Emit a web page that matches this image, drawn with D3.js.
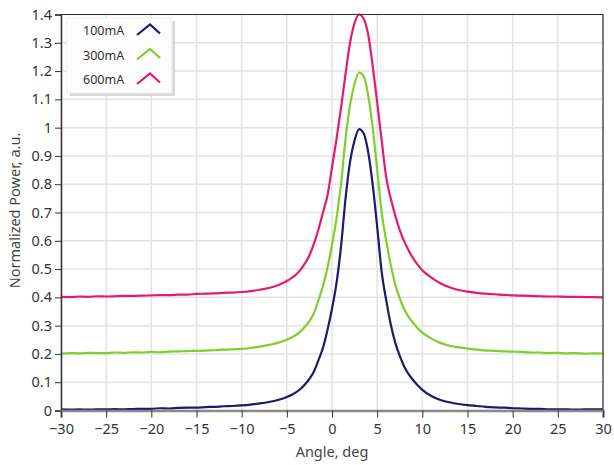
<!DOCTYPE html>
<html>
<head>
<meta charset="utf-8">
<script src="https://cdn.jsdelivr.net/npm/d3@7"></script>
<style>
  html, body { margin: 0; padding: 0; background: #fff; }
  svg { display: block; font-family: "Noto Sans", "Segoe UI", sans-serif; }
</style>
</head>
<body>
<svg id="chart"></svg>
<script>
// angle values (deg), shared by all three series
const angles = [
  -30,-29,-28,-27,-26,-25,-24,-23,-22,-21,-20,-19,-18,-17,-16,-15,-14,-13,-12,-11,-10,
  -9,-8,-7,-6,-5,
  -4.5,-4,-3.5,-3,-2.5,-2,-1.5,-1,-0.5,0,0.5,1,1.5,2,2.5,3,3.5,4,4.5,5,5.5,6,6.5,7,7.5,8,8.5,9,9.5,10,
  11,12,13,14,15,16,17,18,19,20,21,22,23,24,25,26,27,28,29,30
];

const power100 = [
  0.004,0.003,0.004,0.003,0.004,0.004,0.005,0.004,0.005,0.006,0.006,0.008,0.007,0.009,0.010,0.010,0.012,0.013,0.015,0.016,0.018,
  0.021,0.025,0.030,0.037,0.048,
  0.055,0.064,0.076,0.092,0.112,0.138,0.178,0.222,0.285,0.36,0.45,0.58,0.75,0.88,0.955,0.995,0.98,0.915,0.80,0.65,0.49,0.39,0.305,0.24,0.193,0.155,0.128,0.107,0.088,0.073,
  0.051,0.037,0.029,0.023,0.019,0.016,0.013,0.011,0.010,0.008,0.007,0.006,0.006,0.004,0.004,0.004,0.003,0.004,0.004,0.004
];

const power300 = [
  0.201,0.203,0.202,0.204,0.203,0.203,0.205,0.204,0.206,0.205,0.207,0.206,0.208,0.209,0.210,0.211,0.212,0.213,0.215,0.216,0.218,
  0.221,0.226,0.232,0.239,0.250,
  0.258,0.267,0.279,0.296,0.316,0.344,0.39,0.44,0.505,0.585,0.68,0.80,0.96,1.08,1.155,1.195,1.182,1.115,1.00,0.852,0.70,0.60,0.515,0.446,0.396,0.358,0.33,0.309,0.29,0.275,
  0.254,0.239,0.229,0.223,0.219,0.215,0.212,0.211,0.209,0.208,0.207,0.205,0.205,0.203,0.204,0.202,0.203,0.201,0.202,0.201
];

const power600 = [
  0.402,0.401,0.403,0.402,0.404,0.403,0.404,0.405,0.405,0.406,0.407,0.408,0.408,0.410,0.410,0.412,0.413,0.414,0.416,0.417,0.419,
  0.422,0.427,0.433,0.443,0.458,
  0.468,0.48,0.497,0.52,0.548,0.59,0.64,0.70,0.76,0.86,0.96,1.07,1.19,1.30,1.37,1.40,1.385,1.33,1.22,1.09,0.955,0.825,0.75,0.69,0.638,0.598,0.565,0.537,0.515,0.496,
  0.470,0.450,0.436,0.426,0.420,0.416,0.413,0.411,0.409,0.407,0.406,0.405,0.404,0.403,0.403,0.402,0.402,0.401,0.401,0.400
];

const seriesNames = ["100mA", "300mA", "600mA"];
const seriesColors = ["#1b1a6b", "#7fcf2b", "#e8196c"];
const xTicks = [-30,-25,-20,-15,-10,-5,0,5,10,15,20,25,30];
const yTicks = [0,0.1,0.2,0.3,0.4,0.5,0.6,0.7,0.8,0.9,1,1.1,1.2,1.3,1.4];

const width = 614;
const height = 465;
const margin = {top: 14.5, right: 11, bottom: 54.5, left: 61};
const innerWidth = width - margin.left - margin.right;
const innerHeight = height - margin.top - margin.bottom;
const fontFamily = '"Noto Sans", "Segoe UI", sans-serif';

const svg = d3.select("svg#chart")
  .attr("width", width)
  .attr("height", height)
  .attr("viewBox", [0, 0, width, height]);

const x = d3.scaleLinear().domain([-30, 30]).range([0, innerWidth]);
const y = d3.scaleLinear().domain([0, 1.4]).range([innerHeight, 0]);

const graph = svg.append("g")
  .attr("transform", `translate(${margin.left}, ${margin.top})`);

// grid
graph.append("g")
  .selectAll("line")
  .data(xTicks)
  .join("line")
    .attr("x1", d => x(d)).attr("x2", d => x(d))
    .attr("y1", 0).attr("y2", innerHeight)
    .attr("stroke", "#e3e3e3")
    .attr("stroke-width", 1.5);

graph.append("g")
  .selectAll("line")
  .data(yTicks)
  .join("line")
    .attr("y1", d => y(d)).attr("y2", d => y(d))
    .attr("x1", 0).attr("x2", innerWidth)
    .attr("stroke", "#e3e3e3")
    .attr("stroke-width", 1.5);

// curves
const series = [power100, power300, power600];
const line = d3.line()
  .x((d, i) => x(angles[i]))
  .y(d => y(d))
  .curve(d3.curveMonotoneX);

graph.append("g")
  .selectAll("path")
  .data(series)
  .join("path")
    .attr("d", d => line(d))
    .attr("fill", "none")
    .attr("stroke", (d, i) => seriesColors[i])
    .attr("stroke-width", 2.2)
    .attr("stroke-linejoin", "round");

// frame (top + right)
graph.append("path")
  .attr("d", `M0,0H${innerWidth}V${innerHeight}`)
  .attr("fill", "none")
  .attr("stroke", "#333")
  .attr("stroke-width", 1.2);

// y axis
const gYAxis = graph.append("g");
gYAxis.call(d3.axisLeft(y).tickValues(yTicks).tickSize(6).tickPadding(3)
  .tickFormat(d => d3.format("~g")(d)));
gYAxis.attr("font-family", fontFamily).attr("font-size", 14.5);
gYAxis.select(".domain").attr("stroke", "#333").attr("stroke-width", 1.5);
gYAxis.selectAll(".tick line").attr("stroke", "#333");
gYAxis.selectAll("text").attr("fill", "#333");

// x axis
const gXAxis = graph.append("g")
  .attr("transform", `translate(0, ${innerHeight})`);
gXAxis.call(d3.axisBottom(x).tickValues(xTicks).tickSize(7).tickPadding(6));
gXAxis.attr("font-family", fontFamily).attr("font-size", 14.5);
gXAxis.select(".domain").attr("stroke", "#8a8a8a").attr("stroke-width", 2.5);
gXAxis.selectAll(".tick line").attr("stroke", "#333");
gXAxis.selectAll("text").attr("fill", "#333");

// axis titles
svg.append("text")
  .attr("x", margin.left + x(0))
  .attr("y", 457)
  .attr("text-anchor", "middle")
  .attr("fill", "#444")
  .style("font-size", "14.5px")
  .text("Angle, deg");

svg.append("text")
  .attr("transform", `translate(20, ${margin.top + innerHeight / 2 - 2}) rotate(-90)`)
  .attr("text-anchor", "middle")
  .attr("fill", "#444")
  .style("font-size", "14.5px")
  .text("Normalized Power, a.u.");

// legend
const legend = svg.append("g").attr("transform", "translate(67, 18)");
legend.append("rect")
  .attr("x", 3).attr("y", 3)
  .attr("width", 105).attr("height", 75)
  .attr("fill", "#d6d6d6");
legend.append("rect")
  .attr("width", 105).attr("height", 75)
  .attr("fill", "#fff")
  .attr("fill-opacity", 0.92)
  .attr("stroke", "#eee");

const items = legend.selectAll("g.item")
  .data(seriesNames)
  .join("g")
    .attr("class", "item")
    .attr("transform", (d, i) => `translate(0, ${17 + i * 24.5})`);

items.append("text")
  .attr("x", 16)
  .attr("y", 0)
  .attr("fill", "#333")
  .style("font-size", "12.5px")
  .text(d => d);

items.append("path")
  .attr("d", "M70,0L83,-10.5L93,-1.5")
  .attr("fill", "none")
  .attr("stroke", (d, i) => seriesColors[i])
  .attr("stroke-width", 2.2);
</script>
</body>
</html>
